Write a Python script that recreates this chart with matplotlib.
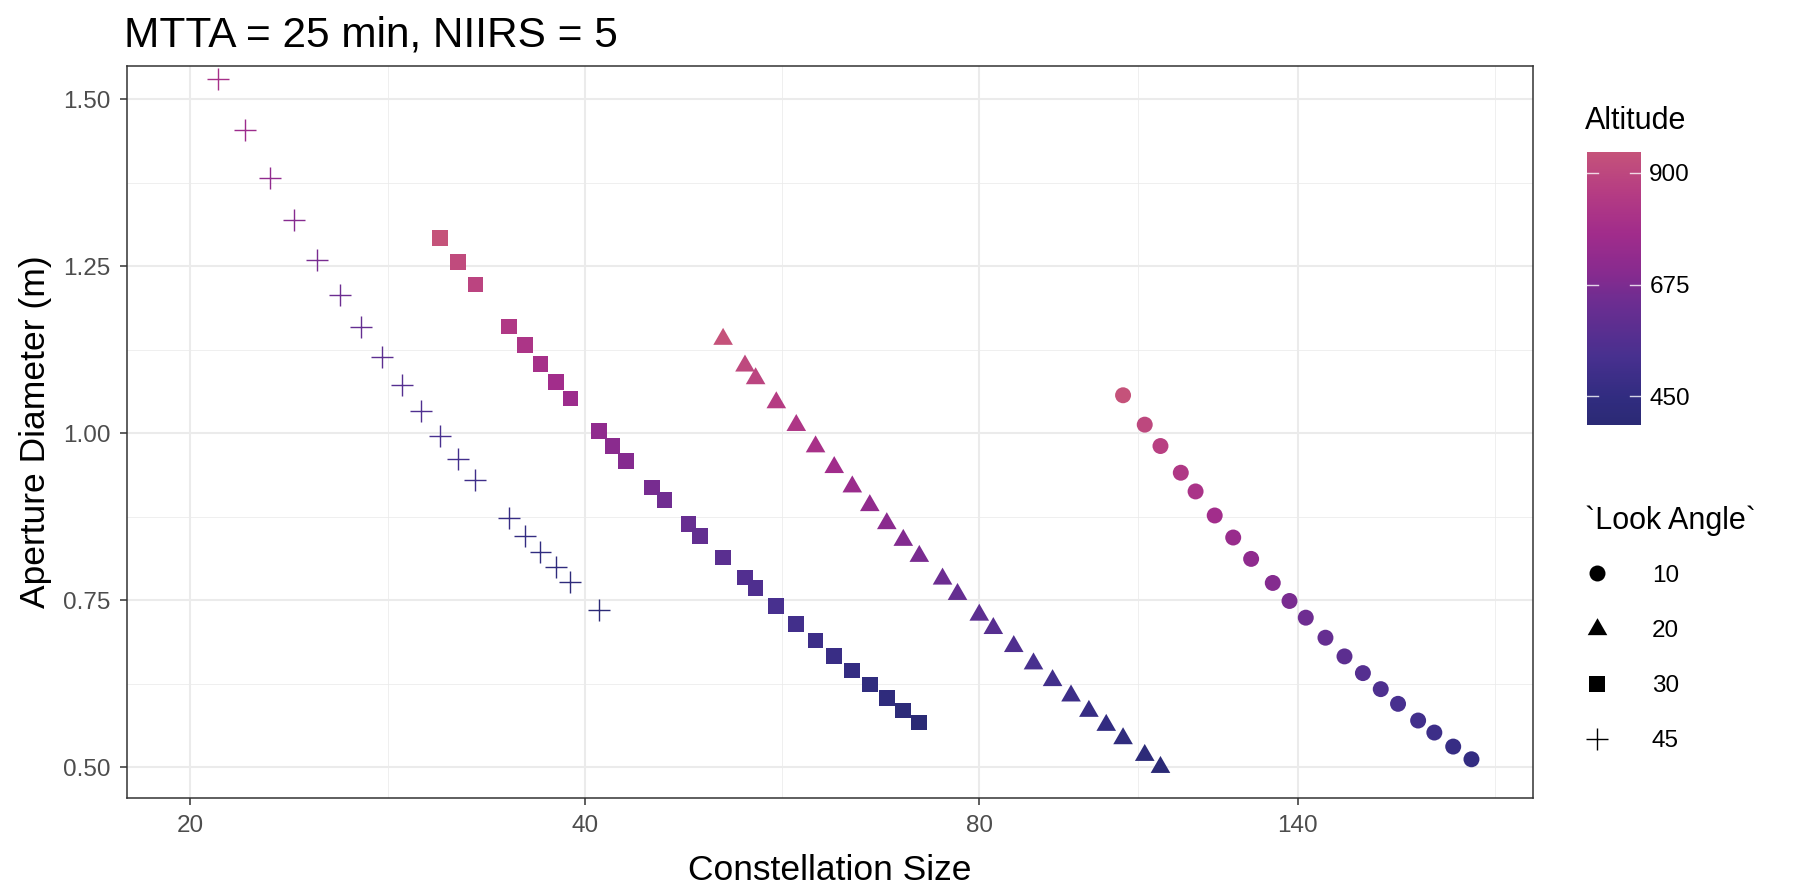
import numpy as np
import matplotlib
import matplotlib.pyplot as plt
from matplotlib.colors import LinearSegmentedColormap, Normalize
from matplotlib.lines import Line2D
from matplotlib.path import Path

matplotlib.use("Agg")  # headless plotting

plt.rcParams["font.family"] = ["Liberation Sans", "DejaVu Sans"]

###################
#                 #
# Design results  #
#                 #
###################

# look angle 10 deg
size_10 = [103, 107, 110, 114, 117, 121, 125, 129, 134, 138,
           142, 147, 152, 157, 162, 167, 173, 178, 184, 190]
diam_10 = [1.057, 1.013, 0.981, 0.941, 0.913, 0.877, 0.844, 0.812, 0.776, 0.749,
           0.724, 0.694, 0.666, 0.641, 0.617, 0.595, 0.570, 0.552, 0.531, 0.512]
alt_10 = [940, 902, 873, 837, 812, 781, 751, 723, 691, 667,
          644, 618, 592, 570, 549, 530, 507, 491, 472, 456]

# look angle 20 deg
size_20 = [51, 53, 54, 56, 58, 60, 62, 64, 66, 68, 70, 72, 75,
           77, 80, 82, 85, 88, 91, 94, 97, 100, 103, 107, 110]
diam_20 = [1.141, 1.101, 1.082, 1.046, 1.012, 0.980, 0.949, 0.920, 0.892, 0.865,
           0.840, 0.816, 0.782, 0.759, 0.728, 0.708, 0.681, 0.655, 0.630, 0.607,
           0.584, 0.563, 0.543, 0.518, 0.500]
alt_20 = [940, 906, 890, 860, 831, 804, 778, 754, 730, 707, 686, 666, 637,
          618, 592, 575, 552, 530, 509, 490, 471, 453, 436, 415, 398]

# look angle 30 deg
size_30 = [31, 32, 33, 35, 36, 37, 38, 39, 41, 42, 43, 45, 46, 48,
           49, 51, 53, 54, 56, 58, 60, 62, 64, 66, 68, 70, 72]
diam_30 = [1.292, 1.257, 1.223, 1.160, 1.132, 1.104, 1.077, 1.052, 1.003, 0.981,
           0.959, 0.919, 0.900, 0.864, 0.846, 0.814, 0.784, 0.768, 0.741, 0.714,
           0.690, 0.667, 0.645, 0.624, 0.604, 0.585, 0.567]
alt_30 = [943, 914, 889, 842, 821, 800, 780, 761, 725, 708, 692, 662, 648, 621,
          608, 584, 562, 550, 530, 510, 492, 475, 458, 442, 428, 413, 393]

# look angle 45 deg
size_45 = [21, 22, 23, 24, 25, 26, 27, 28, 29, 30,
           31, 32, 33, 35, 36, 37, 38, 39, 41]
diam_45 = [1.530, 1.454, 1.383, 1.319, 1.260, 1.207, 1.159, 1.114, 1.072, 1.033,
           0.996, 0.962, 0.930, 0.873, 0.847, 0.822, 0.800, 0.777, 0.736]
alt_45 = [800, 762, 726, 694, 664, 638, 613, 591, 569, 550,
          531, 514, 498, 469, 456, 443, 432, 420, 400]

x_breaks = [20, 40, 80, 140]
y_breaks = [0.50, 0.75, 1.00, 1.25, 1.50]
alt_breaks = [450, 675, 900]

############
#          #
# Plotting #
#          #
############

cmap = LinearSegmentedColormap.from_list(
    "altitude",
    [
        (0.00, "#2b2a75"),
        (0.10, "#312c80"),
        (0.25, "#48308f"),
        (0.45, "#6d2d91"),
        (0.55, "#862b8f"),
        (0.70, "#a12c8b"),
        (0.85, "#b53c83"),
        (1.00, "#c5537a"),
    ],
)
all_alt = alt_10 + alt_20 + alt_30 + alt_45
norm = Normalize(vmin=min(all_alt), vmax=max(all_alt))

# R style filled triangle, centred on its centroid
tri = Path(
    [(0, 1.5551), (1.3468, -0.7776), (-1.3468, -0.7776), (0, 1.5551)],
    [Path.MOVETO, Path.LINETO, Path.LINETO, Path.CLOSEPOLY],
)

W, H = 1799, 885
fig = plt.figure(figsize=(W / 100, H / 100), dpi=100)
ax = fig.add_axes([127 / W, 1 - 798 / H, (1533 - 127) / W, (798 - 66) / H])

series = [
    (size_10, diam_10, alt_10, "o", 132, 0.0),
    (size_20, diam_20, alt_20, tri, 266, 0.0),
    (size_30, diam_30, alt_30, "s", 128, 0.0),
    (size_45, diam_45, alt_45, "+", 250, 1.0),
]
for xs, ys, cs, marker, s, lw in series:
    kw = dict(c=cs, cmap=cmap, norm=norm, marker=marker, s=s, zorder=3)
    if marker == "+":
        kw["linewidths"] = lw
    else:
        kw["edgecolors"] = "none"
    ax.scatter(xs, ys, **kw)

ax.set_xscale("log")
ax.set_xlim(17.89, 211.7)
ax.set_ylim(0.454, 1.550)

ax.set_xticks(x_breaks)
ax.set_xticklabels([str(v) for v in x_breaks])
ax.set_yticks(y_breaks)
ax.set_yticklabels(["%.2f" % v for v in y_breaks])
ax.minorticks_off()

# minor grid sits halfway between breaks on the transformed scale
x_minor = [np.sqrt(a * b) for a, b in zip(x_breaks[:-1], x_breaks[1:])]
x_minor.append(x_breaks[-1] * np.sqrt(x_breaks[1] / x_breaks[0]))
y_minor = [(a + b) / 2 for a, b in zip(y_breaks[:-1], y_breaks[1:])]
for v in x_minor:
    ax.axvline(v, color="#ebebeb", lw=0.55, zorder=0)
for v in y_minor:
    ax.axhline(v, color="#ebebeb", lw=0.55, zorder=0)
ax.grid(True, which="major", color="#ebebeb", lw=1.5, zorder=0)
ax.set_axisbelow(True)

for sp in ax.spines.values():
    sp.set_color("#333333")
    sp.set_linewidth(1.1)
ax.tick_params(axis="both", length=5, width=1.1, color="#333333",
               labelsize=17.5, labelcolor="#4d4d4d", pad=7)

fig.text(830 / W, 1 - 871 / H, "Constellation Size", ha="center", va="center",
         fontsize=25.5, color="black")
fig.text(36 / W, 1 - 432 / H, "Aperture Diameter (m)", ha="center", va="center",
         rotation=90, fontsize=25.5, color="black")
fig.text(124 / W, 1 - 35 / H, "MTTA = 25 min, NIIRS = 5", ha="left", va="center",
         fontsize=30.5, color="black")

# colour bar for altitude
cax = fig.add_axes([1587 / W, 1 - 424.5 / H, 54 / W, 273 / H])
cb = fig.colorbar(plt.cm.ScalarMappable(norm=norm, cmap=cmap), cax=cax)
cb.outline.set_visible(False)
cb.set_ticks(alt_breaks)
cb.set_ticklabels([str(v) for v in alt_breaks])
cax.tick_params(length=0, pad=6, labelsize=17.5, labelcolor="black")
for v in alt_breaks:
    cax.plot([0.0, 0.2], [v, v], color="white", alpha=0.8, lw=1.0,
             transform=cax.get_yaxis_transform())
    cax.plot([0.8, 1.0], [v, v], color="white", alpha=0.8, lw=1.0,
             transform=cax.get_yaxis_transform())
fig.text(1585 / W, 1 - 121 / H, "Altitude", ha="left", va="center", fontsize=22)

# shape legend for look angle
handles = [
    Line2D([], [], marker="o", ls="none", color="black", markersize=11.5, markeredgewidth=0),
    Line2D([], [], marker=tri, ls="none", color="black", markersize=16.3, markeredgewidth=0),
    Line2D([], [], marker="s", ls="none", color="black", markersize=11.3, markeredgewidth=0),
    Line2D([], [], marker="+", ls="none", color="black", markersize=15.8, markeredgewidth=1.0),
]
leg = fig.legend(
    handles, ["10", "20", "30", "45"],
    title="`Look Angle`", title_fontsize=22, fontsize=17.5,
    loc="upper left", bbox_to_anchor=(1585 / W, 1 - 506 / H),
    frameon=False, borderpad=0, borderaxespad=0,
    handlelength=1.0, handletextpad=1.75, labelspacing=1.36,
    alignment="left",
)
# a little less room between the legend title and its first key
leg._legend_box.sep = 1.36 * 17.5 - 3.3

fig.savefig("out.png", dpi=100)
